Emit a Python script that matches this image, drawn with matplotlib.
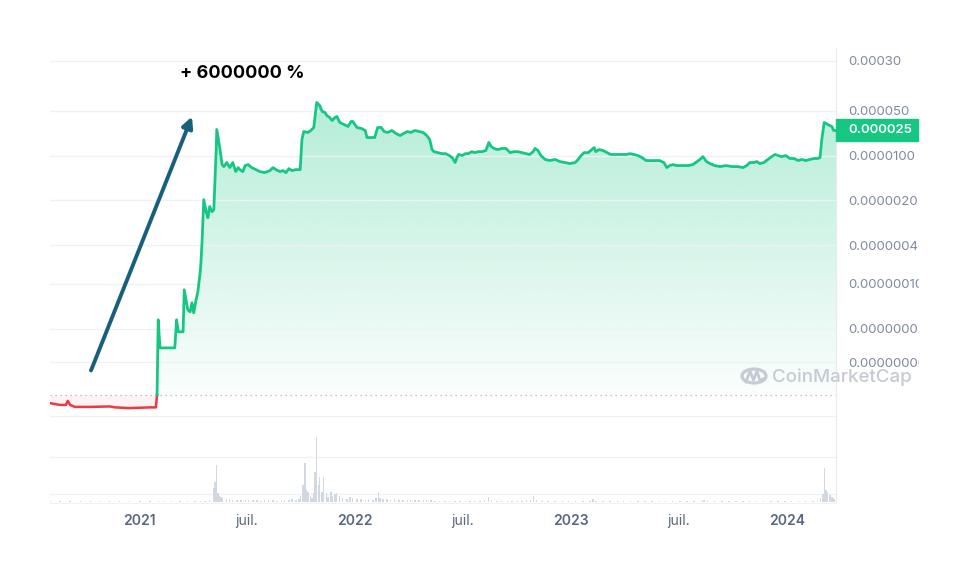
import numpy as np
import pandas as pd
import matplotlib
matplotlib.use("Agg")
import matplotlib.pyplot as plt
import matplotlib.dates as mdates
from matplotlib.patches import Rectangle, Circle, FancyArrowPatch
from matplotlib.lines import Line2D

plt.rcParams["font.family"] = ["Inter", "DejaVu Sans"]

# ── data ─────────────────────────────────────────────────────────────────────
START = pd.Timestamp("2020-08-03")
END_DAY = 1329

# price below the start reference (red part), days since START
RED_DAYS = [0, 8, 17, 27, 30, 34, 42, 68, 101, 110, 135, 169, 179, 181]
RED_PRICES = [1.38e-9, 1.33e-9, 1.29e-9, 1.29e-9, 1.49e-9, 1.29e-9, 1.20e-9,
              1.20e-9, 1.22e-9, 1.18e-9, 1.15e-9, 1.18e-9, 1.18e-9, 1.85e-9]

GREEN_DAYS = [
    181, 183, 184, 186, 203, 211, 214, 217, 225, 227, 230, 233, 237, 240, 243,
    247, 250, 254, 255, 257, 260, 264, 267, 270, 274, 277, 281, 282, 286, 287,
    291, 294, 299, 304, 309, 314, 318, 321, 326, 330, 335, 341, 348, 355, 363,
    372, 377, 382, 389, 394, 399, 404, 409, 416, 423, 426, 429, 436, 441, 446,
    451, 456, 460, 465, 468, 473, 477, 482, 485, 490, 497, 504, 509, 512, 519,
    527, 533, 536, 543, 549, 554, 560, 565, 571, 578, 585, 592, 598, 604, 610,
    617, 624, 631, 637, 642, 646, 649, 656, 663, 669, 675, 680, 685, 688, 691,
    697, 702, 707, 713, 718, 724, 730, 737, 742, 746, 751, 757, 764, 771, 778,
    784, 791, 798, 805, 811, 817, 820, 825, 830, 837, 845, 854, 862, 871, 879,
    888, 893, 898, 903, 910, 916, 920, 923, 928, 935, 942, 948, 957, 965, 974,
    981, 987, 994, 1001, 1008, 1014, 1023, 1031, 1038, 1043, 1048, 1053, 1060,
    1068, 1079, 1087, 1094, 1099, 1104, 1110, 1116, 1124, 1133, 1143, 1153,
    1163, 1172, 1178, 1183, 1190, 1195, 1200, 1207, 1214, 1220, 1226, 1231,
    1237, 1244, 1251, 1258, 1265, 1271, 1278, 1285, 1292, 1298, 1302, 1305,
    1309, 1315, 1322, 1325, 1329,
]
GREEN_PRICES = [
    1.85e-9, 2.74e-8, 1.91e-8, 1.0e-8, 1.0e-8, 1.0e-8, 2.74e-8, 1.78e-8, 1.78e-8,
    8.06e-8, 5.62e-8, 3.92e-8, 3.65e-8, 5.05e-8, 3.52e-8, 5.62e-8, 7.5e-8,
    1.54e-7, 1.98e-7, 4.37e-7, 2.05e-6, 1.33e-6, 1.07e-6, 1.60e-6, 1.33e-6,
    1.43e-6, 1.24e-5, 2.55e-5, 1.49e-5, 1.33e-5, 7.23e-6, 6.73e-6, 7.78e-6,
    6.49e-6, 7.78e-6, 5.62e-6, 6.49e-6, 6.04e-6, 5.62e-6, 6.98e-6, 7.23e-6,
    6.49e-6, 6.04e-6, 5.62e-6, 5.42e-6, 5.83e-6, 6.49e-6, 6.04e-6, 5.62e-6,
    5.83e-6, 5.42e-6, 6.26e-6, 5.83e-6, 6.04e-6, 6.04e-6, 1.78e-5, 2.37e-5,
    2.29e-5, 2.46e-5, 2.74e-5, 6.73e-5, 6.04e-5, 4.87e-5, 4.70e-5, 4.22e-5,
    3.92e-5, 3.52e-5, 3.92e-5, 4.07e-5, 3.28e-5, 3.05e-5, 2.84e-5, 3.40e-5,
    3.40e-5, 2.74e-5, 2.64e-5, 2.46e-5, 1.91e-5, 1.91e-5, 1.91e-5, 2.74e-5,
    2.74e-5, 2.37e-5, 2.29e-5, 2.46e-5, 2.21e-5, 2.05e-5, 2.21e-5, 2.37e-5,
    2.29e-5, 2.46e-5, 2.37e-5, 2.29e-5, 2.05e-5, 1.78e-5, 1.24e-5, 1.15e-5,
    1.11e-5, 1.07e-5, 1.07e-5, 1.0e-5, 9.3e-6, 7.78e-6, 9.3e-6, 1.04e-5,
    1.0e-5, 1.07e-5, 1.07e-5, 1.15e-5, 1.11e-5, 1.15e-5, 1.15e-5, 1.20e-5,
    1.60e-5, 1.38e-5, 1.29e-5, 1.24e-5, 1.29e-5, 1.29e-5, 1.11e-5, 1.15e-5,
    1.15e-5, 1.11e-5, 1.07e-5, 1.04e-5, 1.15e-5, 1.29e-5, 1.20e-5, 1.0e-5,
    8.7e-6, 8.35e-6, 8.7e-6, 8.06e-6, 7.78e-6, 7.5e-6, 7.78e-6, 8.7e-6, 1.0e-5,
    1.11e-5, 1.11e-5, 1.24e-5, 1.33e-5, 1.15e-5, 1.24e-5, 1.20e-5, 1.11e-5,
    1.04e-5, 1.04e-5, 1.04e-5, 1.04e-5, 1.07e-5, 1.04e-5, 1.0e-5, 9.3e-6,
    8.35e-6, 8.35e-6, 8.35e-6, 8.35e-6, 7.78e-6, 6.49e-6, 6.98e-6, 7.23e-6,
    6.98e-6, 6.98e-6, 6.98e-6, 7.23e-6, 8.06e-6, 8.7e-6, 9.6e-6, 8.06e-6,
    7.5e-6, 6.98e-6, 6.73e-6, 6.98e-6, 6.73e-6, 6.73e-6, 6.49e-6, 6.98e-6,
    7.78e-6, 7.78e-6, 8.06e-6, 7.5e-6, 7.78e-6, 8.7e-6, 9.6e-6, 1.04e-5,
    1.0e-5, 9.6e-6, 1.0e-5, 9.0e-6, 9.0e-6, 8.35e-6, 8.7e-6, 8.35e-6, 8.7e-6,
    9.0e-6, 9.0e-6, 9.3e-6, 1.78e-5, 3.28e-5, 3.05e-5, 2.84e-5, 2.46e-5,
    2.46e-5,
]

BASELINE = 1.85e-9          # start-price reference (dotted line)
CURRENT_LABEL = "0.000025"

# volume (arbitrary units), days since START
VOL_DAYS = [
    0, 17, 34, 51, 68, 85, 101, 118, 135, 152,
    169, 183, 194, 206, 220, 233, 245, 254, 262, 270,
    276, 277, 279, 281, 282, 284, 286, 289, 292, 298,
    303, 309, 316, 323, 330, 336, 343, 350, 357, 363,
    370, 377, 384, 391, 397, 404, 409, 416, 421, 424,
    428, 431, 434, 436, 440, 443, 445, 448, 451, 455,
    456, 460, 462, 463, 467, 470, 475, 478, 482, 485,
    490, 495, 502, 507, 512, 519, 526, 533, 539, 546,
    551, 555, 558, 563, 570, 576, 583, 590, 597, 604,
    610, 617, 624, 631, 637, 644, 651, 659, 668, 676,
    685, 693, 702, 710, 718, 727, 735, 742, 747, 756,
    764, 773, 781, 790, 798, 806, 813, 818, 823, 832,
    842, 854, 866, 877, 889, 901, 913, 918, 923, 935,
    947, 959, 970, 982, 994, 1006, 1018, 1030, 1041, 1053,
    1065, 1077, 1089, 1101, 1106, 1112, 1124, 1136, 1148, 1160,
    1172, 1183, 1195, 1207, 1219, 1231, 1243, 1254, 1266, 1278,
    1290, 1298, 1303, 1307, 1310, 1312, 1315, 1319, 1322, 1325,
    1327,
]
VOL_VALUES = [
    0.6, 0.6, 0.7, 0.6, 0.6, 0.6, 0.7, 0.6, 0.6, 0.6,
    0.7, 1.2, 1.0, 1.0, 1.2, 1.2, 1.5, 1.5, 1.5, 2.0,
    6, 14, 20, 37, 12, 9, 6, 5, 4, 3,
    3, 2.5, 2.5, 2, 2.5, 2, 2, 2, 1.5, 2,
    2, 2, 1.5, 2, 2, 2.5, 3, 2, 3, 6,
    17, 39, 12, 10, 6, 4, 9, 30, 65, 17,
    25, 10, 25, 12, 9, 5, 10, 6, 8, 9,
    6, 4, 3, 5, 4, 3, 3, 2.5, 3, 2.5,
    4, 10, 4, 3, 3, 2.5, 3, 2.5, 2.5, 2,
    2.5, 2, 2, 2, 2, 2, 1.5, 1.5, 1.5, 1.5,
    1.5, 1.5, 1.5, 1.5, 1.5, 1.5, 2, 5, 2, 1.5,
    1.5, 1.5, 1.5, 1.5, 1.5, 2, 2, 6, 2, 1.5,
    1, 1, 1, 1, 1, 1, 1.5, 3, 1, 1,
    1, 1, 1, 1, 1, 1, 1, 1, 1, 1,
    1, 1, 1, 1.5, 2, 1, 1, 1, 1, 1,
    1, 1, 1, 1, 1.5, 1, 1, 1, 1, 1,
    1, 1.5, 4, 8, 34, 12, 10, 7, 5, 4,
    3,
]
VOL_GRID = [8, 45, 86]

Y_TICKS = [6e-9, 2e-8, 1e-7, 4e-7, 2e-6, 1e-5, 5e-5, 3e-4]
Y_LABELS = ["0.0000000060", "0.000000020", "0.00000010", "0.00000040",
            "0.0000020", "0.0000100", "0.000050", "0.00030"]
X_TICKS = ["2021-01-01", "2021-07-01", "2022-01-01", "2022-07-01",
           "2023-01-01", "2023-07-01", "2024-01-01"]
X_LABELS = ["2021", "juil.", "2022", "juil.", "2023", "juil.", "2024"]

ANNOTATION = "+ 6000000 %"

# ── colours ──────────────────────────────────────────────────────────────────
C_UP = "#16c784"
C_DOWN = "#ea3943"
C_GRID = "#eff2f5"
C_TICK = "#808a9d"
C_XTICK = "#58667e"
C_VOL = "#d2d8e2"
C_ARROW = "#175f7d"
C_WM = "#c5cad3"

# ── figure ───────────────────────────────────────────────────────────────────
W, H = 976, 567
fig = plt.figure(figsize=(W / 100, H / 100), dpi=100)


def fx(x):
    return x / W


def fy(y):
    return 1 - y / H


ax = fig.add_axes([fx(50), fy(416), fx(836) - fx(50), fy(48) - fy(416)])
axv = fig.add_axes([fx(50), fy(503), fx(836) - fx(50), fy(416) - fy(503)], sharex=ax)


def to_dates(days):
    return START + pd.to_timedelta(days, unit="D")


red_x = to_dates(RED_DAYS)
green_x = to_dates(GREEN_DAYS)
vol_x = to_dates(VOL_DAYS)

Y_LIM = (8.66e-10, 4.76e-4)

ax.set_yscale("log")
ax.set_xlim(START, to_dates(END_DAY))
ax.set_ylim(*Y_LIM)
ax.set_autoscale_on(False)

# gradient fill under the green line
poly = ax.fill_between(green_x, GREEN_PRICES, BASELINE, color="none", lw=0)
clip_path = poly.get_paths()[0]
poly.remove()
frac = np.linspace(0, 1, 256)
alpha = np.clip(0.02 + 0.28 * (frac - 0.057) / 0.743, 0, 0.4)
grad = np.zeros((256, 1, 4))
grad[:, 0, :3] = np.array([22, 199, 132]) / 255
grad[:, 0, 3] = alpha
img = ax.imshow(grad, extent=[0, 1, 0, 1], transform=ax.transAxes,
                origin="lower", aspect="auto", interpolation="bilinear", zorder=1)
img.set_clip_path(clip_path, transform=ax.transData)

ax.fill_between(red_x, RED_PRICES, BASELINE, color=C_DOWN, alpha=0.06, lw=0, zorder=1)

ax.plot(red_x, RED_PRICES, color=C_DOWN, lw=1.8, zorder=3, solid_joinstyle="round")
ax.plot(green_x, GREEN_PRICES, color=C_UP, lw=2.0, zorder=3, solid_joinstyle="round")
ax.axhline(BASELINE, color="#a6b0c3", lw=0.9, ls=(0, (1, 3)), zorder=2)

ax.set_xlim(START, to_dates(END_DAY))
ax.set_ylim(*Y_LIM)

ax.set_yticks(Y_TICKS)
ax.set_yticklabels(Y_LABELS)
ax.yaxis.set_minor_locator(matplotlib.ticker.NullLocator())
ax.yaxis.tick_right()
ax.tick_params(axis="y", length=0, pad=8.5, labelsize=9.5, labelcolor=C_TICK)
ax.tick_params(axis="x", length=0, labelbottom=False)
ax.grid(axis="y", color=C_GRID, lw=1, zorder=0)
for s in ["top", "left", "bottom"]:
    ax.spines[s].set_visible(False)
ax.spines["right"].set_color("#e8ebf0")
ax.set_facecolor("none")

# volume
axv.bar(vol_x, VOL_VALUES, width=2.2, color=C_VOL, lw=0, zorder=2)
axv.set_ylim(-1, 86)
axv.set_yticks(VOL_GRID)
axv.tick_params(axis="y", length=0, labelright=False, labelleft=False)
axv.grid(axis="y", color=C_GRID, lw=1, zorder=0)
for s in ["top", "left"]:
    axv.spines[s].set_visible(False)
axv.spines["right"].set_color("#e8ebf0")
axv.spines["bottom"].set_color(C_GRID)

axv.set_xticks(pd.to_datetime(X_TICKS))
axv.set_xticklabels(X_LABELS)
axv.tick_params(axis="x", length=0, pad=8, labelsize=10, labelcolor=C_XTICK)
for lbl, txt in zip(axv.get_xticklabels(), X_LABELS):
    lbl.set_fontweight("semibold" if txt[0].isdigit() else "normal")
ax.set_xlim(START, to_dates(END_DAY))

# clip long right-axis labels like the original
fig.add_artist(Rectangle((fx(919), 0), 1 - fx(919), 1, transform=fig.transFigure,
                         color="white", zorder=10))

# current price tag
last_x = mdates.date2num(green_x[-1])
ydisp = ax.transData.transform((last_x, GREEN_PRICES[-1]))[1] / (fig.dpi * H / 100)
fig.add_artist(Rectangle((fx(836), ydisp - 11 / H), fx(918) - fx(836), 22 / H,
                         transform=fig.transFigure, color=C_UP, zorder=11))
fig.text(fx(848), ydisp, CURRENT_LABEL, color="white", fontsize=9.5,
         fontweight="semibold", va="center", ha="left", zorder=12)

# annotation arrow + text
fig.add_artist(FancyArrowPatch((fx(90), fy(373)), (fx(193), fy(114)),
                               transform=fig.transFigure, arrowstyle="-|>",
                               mutation_scale=16, lw=2.8, color=C_ARROW, zorder=12))
fig.text(fx(242), fy(74), ANNOTATION, fontsize=13, fontweight="bold",
         color="black", ha="center", va="center")

# watermark
fig.add_artist(Circle((fx(754), fy(376)), 12 / W, transform=fig.transFigure,
                      fill=False, lw=2.3, color=C_WM, zorder=9))
wave_x = [746, 750, 753.5, 757, 760, 763]
wave_y = [382, 371, 380, 371, 381, 379]
fig.add_artist(Line2D([fx(v) for v in wave_x], [fy(v) for v in wave_y],
                      transform=fig.transFigure, lw=2.0, color=C_WM, zorder=9))
fig.text(fx(772), fy(377), "CoinMarketCap", fontsize=13.5, fontweight="medium",
         color=C_WM, ha="left", va="center", zorder=13)

fig.savefig("out.png", dpi=100)
